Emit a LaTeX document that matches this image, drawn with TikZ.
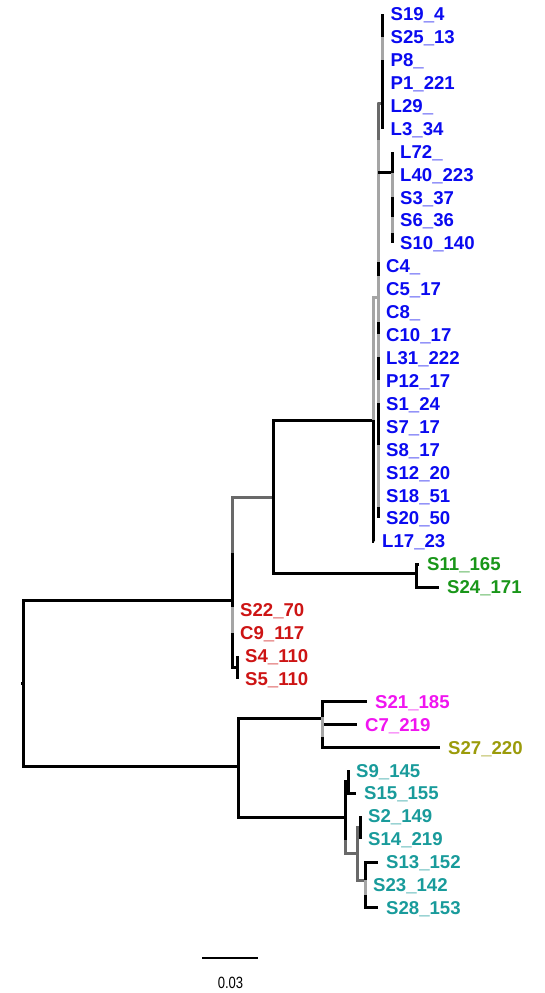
\documentclass[tikz,border=0pt]{standalone}
\usepackage{fontspec}
\setmainfont{Liberation Sans}
\definecolor{tipblue}{RGB}{10,10,240}
\definecolor{tipred}{RGB}{205,20,20}
\definecolor{tipgreen}{RGB}{25,150,25}
\definecolor{tipmag}{RGB}{240,20,240}
\definecolor{tipolive}{RGB}{155,155,10}
\definecolor{tipteal}{RGB}{25,155,155}
\definecolor{brmid}{RGB}{105,105,105}
\definecolor{brlight}{RGB}{165,165,165}
\tikzset{
  br/.style={line width=3pt, black},
  brm/.style={br, brmid},
  brl/.style={br, brlight},
  leaf/.style={anchor=base west, inner sep=0pt, xshift=8pt, yshift=-6.7pt,
    font=\bfseries\fontsize{18.6}{20}\selectfont},
}
\begin{document}
\begin{tikzpicture}[x=1pt, y=-1pt, line join=miter]
  \useasboundingbox (0,0) rectangle (544,993);
  \def\dy{22.92}
  % inner nodes of the tree
  \path
  (21,683) coordinate (base)
  (23,683) coordinate (root)
  (232,600) coordinate (u)
  (237,667) coordinate (rd)
  (273,497) coordinate (b)
  (373,420) coordinate (r)
  (378,297) coordinate (p)
  (382.5,103) coordinate (t1)
  (392,172) coordinate (t2)
  (416,573) coordinate (g)
  (238,766) coordinate (l)
  (322,718) coordinate (m)
  (345,817) coordinate (q)
  (348,781) coordinate (q1)
  (357,853) coordinate (q2)
  (360,827) coordinate (q3)
  (365,880) coordinate (q4)
  ;
  % tips, one row each
  \foreach \n/\x/\i in {s19/382.5/0, s25/382.5/1, p8/382.5/2, p1/382.5/3, l29/382.5/4, l3/382.5/5,
    l72/392/6, l40/392/7, s3/392/8, s6/392/9, s10/392/10,
    c4/378/11, c5/378/12, c8/378/13, c10/378/14, l31/378/15, p12/378/16, s1/378/17,
    s7/378/18, s8/378/19, s12/378/20, s18/378/21, s20/378/22,
    l17/374/23, s11/419/24, s24/439/25, s22/232/26, c9/232/27, s4/237/28, s5/237/29,
    s21/367/30, c7/357/31, s27/440/32, s9/348/33, s15/356/34, s2/360/35, s14/360/36,
    s13/378/37, s23/365/38, s28/378/39}
    \coordinate (\n) at (\x,14+\i*\dy);

  % upper half
  \draw[br] (base) -- (root);
  \draw[br] (root) |- (u);
  \draw[br] (root) |- (l);
  \draw[brm] (u) |- (b);
  \foreach \c in {s22,c9,rd} \draw[br] (u) |- (\c);
  \draw[br] (232,553) -- (232,607);
  \draw[brl] (232,607) -- (232,633);
  \foreach \c in {s4,s5} \draw[br] (rd) |- (\c);
  \draw[br] (b) |- (r);
  \draw[br] (b) |- (g);
  \foreach \c in {s11,s24} \draw[br] (g) |- (\c);
  \draw[brl] (r) |- (p);
  \draw[br] (r) |- (l17);
  \foreach \c in {t1,c4,c5,c8,c10,l31,p12,s1,s7,s8,s12,s18,s20} \draw[brl] (p) |- (\c);
  \draw[brm] (378,103) -- (378,140);
  \draw[brm] (p |- t1) -- (t1);
  \draw[br] (p |- t2) -- (t2);
  \foreach \a/\z in {262/276, 322/334, 357/380, 403/445, 507/518}
    \draw[br] (378,\a) -- (378,\z);
  \foreach \c in {s19,s25,p8,p1,l29,l3} \draw[br] (t1) |- (\c);
  \draw[brl] (382.5,37) -- (382.5,60);
  \foreach \c in {l72,l40,s3,s6,s10} \draw[br] (t2) |- (\c);
  \draw[brl] (392,173) -- (392,197);
  \draw[brl] (392,217) -- (392,233);

  % lower half
  \draw[br] (l) |- (m);
  \foreach \c in {s21,c7,s27} \draw[br] (m) |- (\c);
  \draw[brl] (322,717) -- (322,737);
  \draw[br] (l) |- (q);
  \draw[brm] (q) |- (q2);
  \draw[br] (q) |- (q1);
  \draw[br] (345,817) -- (345,840);
  \foreach \c in {s9,s15} \draw[br] (q1) |- (\c);
  \draw[brm] (q2) |- (q3);
  \draw[brm] (q2) |- (q4);
  \foreach \c in {s2,s14} \draw[br] (q3) |- (\c);
  \foreach \c in {s13,s23,s28} \draw[br] (q4) |- (\c);
  \draw[brl] (365,880) -- (365,895);

  % labels
  \foreach \n/\t in {s19/S19\_4, s25/S25\_13, p8/P8\_, p1/P1\_221, l29/L29\_, l3/L3\_34,
    l72/L72\_, l40/L40\_223, s3/S3\_37, s6/S6\_36, s10/S10\_140, c4/C4\_, c5/C5\_17,
    c8/C8\_, c10/C10\_17, l31/L31\_222, p12/P12\_17, s1/S1\_24, s7/S7\_17, s8/S8\_17,
    s12/S12\_20, s18/S18\_51, s20/S20\_50, l17/L17\_23}
    \node[leaf, tipblue] (\n-lab) at (\n) {\t};
  \foreach \n/\t in {s11/S11\_165, s24/S24\_171}
    \node[leaf, tipgreen] (\n-lab) at (\n) {\t};
  \foreach \n/\t in {s22/S22\_70, c9/C9\_117, s4/S4\_110, s5/S5\_110}
    \node[leaf, tipred] (\n-lab) at (\n) {\t};
  \foreach \n/\t in {s21/S21\_185, c7/C7\_219}
    \node[leaf, tipmag] (\n-lab) at (\n) {\t};
  \node[leaf, tipolive] (s27-lab) at (s27) {S27\_220};
  \foreach \n/\t in {s9/S9\_145, s15/S15\_155, s2/S2\_149, s14/S14\_219, s13/S13\_152,
    s23/S23\_142, s28/S28\_153}
    \node[leaf, tipteal] (\n-lab) at (\n) {\t};

  % scale bar
  \coordinate (sb0) at (202,958);
  \coordinate (sb1) at (258,958);
  \draw[line width=2.7pt] (sb0) -- (sb1);
  \node[anchor=base, inner sep=0pt, font=\fontsize{16.3}{17}\selectfont] (sblab) at (230.5,988)
    {\scalebox{0.8}[1]{0.03}};
\end{tikzpicture}
\end{document}
